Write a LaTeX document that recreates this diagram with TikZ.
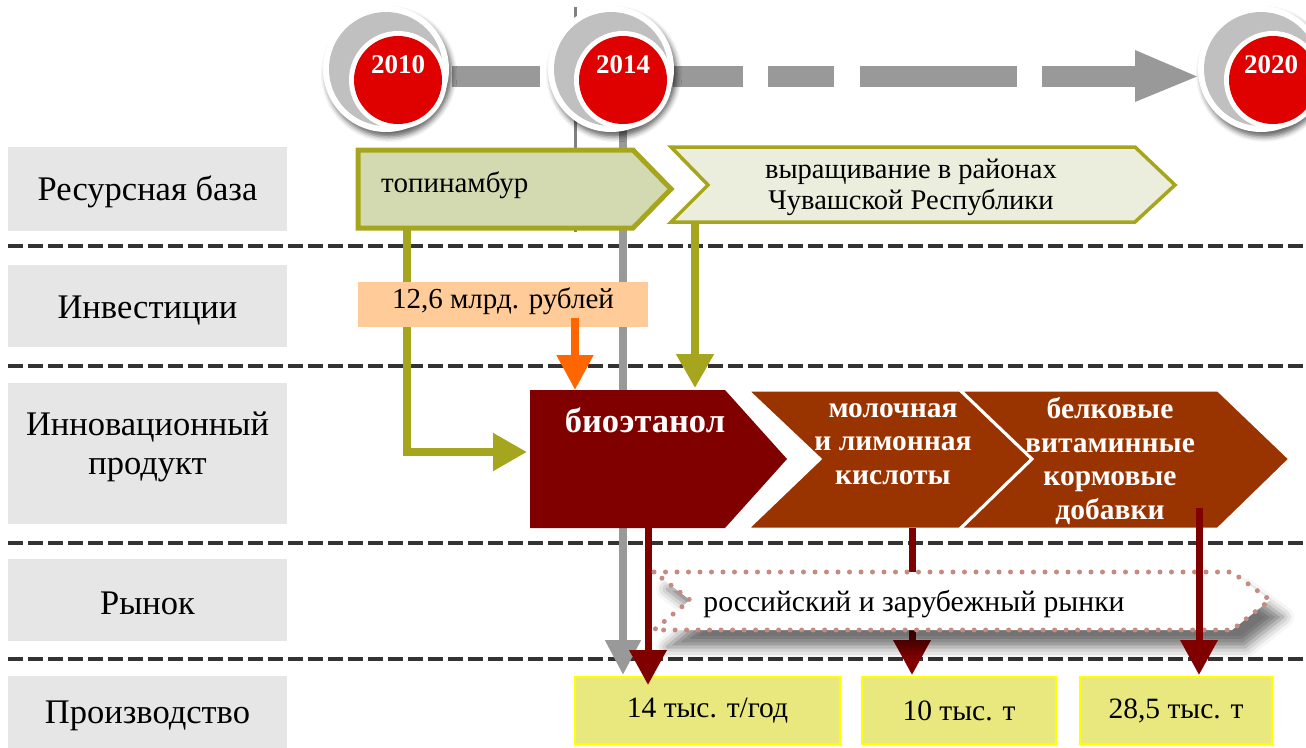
\documentclass[tikz,border=0pt]{standalone}
\usepackage{fontspec}
\setmainfont{Liberation Serif}
\usetikzlibrary{arrows.meta,shadows.blur}

\definecolor{lblgray}{HTML}{E6E6E6}
\definecolor{sepgray}{HTML}{333333}
\definecolor{bargray}{HTML}{999999}
\definecolor{guidegray}{HTML}{808080}
\definecolor{ringgray}{HTML}{C0C0C0}
\definecolor{yearred}{HTML}{DF0000}
\definecolor{oliveline}{HTML}{A6A61E}
\definecolor{topifill}{HTML}{D3DAB1}
\definecolor{growfill}{HTML}{EBEEDD}
\definecolor{peach}{HTML}{FFCC99}
\definecolor{orangearr}{HTML}{FF6600}
\definecolor{darkmaroon}{HTML}{800000}
\definecolor{rust}{HTML}{993300}
\definecolor{dotrose}{HTML}{C38B82}
\definecolor{prodfill}{HTML}{E8E87F}
\definecolor{prodedge}{HTML}{FFFF00}

\newcommand\txtsize[2]{\fontsize{#1}{#2}\selectfont}

\begin{document}
\begin{tikzpicture}[x=1pt,y=-1pt,
  rowtext/.style={inner sep=0pt, align=center, font=\txtsize{34.5}{39}},
  rowsep/.style={draw=sepgray, line width=4pt, dash pattern=on 15pt off 5pt},
  bar/.style={fill=bargray},
  yearshadow/.style={blur shadow={shadow xshift=3pt, shadow yshift=-5pt, shadow blur radius=5pt, shadow opacity=60}},
  yeartext/.style={inner sep=0pt, text=white, font=\bfseries\txtsize{27}{27}},
  plaintext/.style={inner sep=0pt, align=center, font=\txtsize{29}{31}},
  whitebold/.style={inner sep=0pt, align=center, text=white, font=\bfseries\txtsize{29.5}{33.5}},
  olivearrow/.style={draw=oliveline, line width=8pt, line join=miter, -{Triangle[width=36pt,length=34pt]}},
  orangearrow/.style={draw=orangearr, line width=8pt, -{Triangle[width=35pt,length=35pt]}},
  grayarrow/.style={draw=bargray, line width=8pt, -{Triangle[width=34pt,length=35pt]}},
  redarrow/.style={draw=darkmaroon, line width=7pt, -{Triangle[width=36pt,length=35pt]}},
  prodbox/.style={fill=prodfill, draw=prodedge, line width=2pt, inner sep=0pt, font=\txtsize{29.5}{31}},
]
\useasboundingbox (0,0) rectangle (1306,747);
\clip (0,0) rectangle (1306,747);

% ---- row captions on the left ----
\fill[lblgray] (8,147) rectangle (287,231);
\fill[lblgray] (8,265) rectangle (287,347);
\fill[lblgray] (8,383) rectangle (287,524);
\fill[lblgray] (8,559) rectangle (287,641);
\fill[lblgray] (8,676) rectangle (287,760);
\node[rowtext, anchor=base] (lres) at (147.5,200) {Ресурсная база};
\node[rowtext, anchor=base] (linv) at (147.5,318) {Инвестиции};
\node[rowtext] (linn) at (147.5,447) {Инновационный\\продукт};
\node[rowtext, anchor=base] (lmkt) at (147.5,614) {Рынок};
\node[rowtext, anchor=base] (lprd) at (147.5,723) {Производство};

% ---- dashed row separators ----
\foreach \yy in {246,366,543,659}
  \draw[rowsep] (8,\yy) -- (1306,\yy);

% ---- guide lines from the 2014 mark ----
\draw[guidegray, line width=3pt] (575,7) -- (575,232);
\coordinate (g0) at (623,130);
\coordinate (g1) at (623,675);
\draw[grayarrow] (g0) -- (g1);

% ---- timeline ----
\fill[bar] (452,66) rectangle (540,87);
\fill[bar] (673,66) rectangle (743,87);
\fill[bar] (768,66) rectangle (834,87);
\fill[bar] (860,66) rectangle (1017,87);
\fill[bar] (1042,66) rectangle (1136,87);
\fill[bar] (1135,50) -- (1197,76.5) -- (1135,102) -- cycle;

\begin{scope}[shift={(386,69)}]
  \fill[white, yearshadow] (0,0) circle (63);
  \fill[ringgray] (0,0) circle (57);
  \fill[white] (12,11) circle (49);
  \fill[yearred] (12,11) circle (44);
  \node[yeartext] (y2010) at (12,-4) {2010};
\end{scope}
\begin{scope}[shift={(611,69)}]
  \fill[white, yearshadow] (0,0) circle (63);
  \fill[ringgray] (0,0) circle (57);
  \fill[white] (12,11) circle (49);
  \fill[yearred] (12,11) circle (44);
  \node[yeartext] (y2014) at (12,-4) {2014};
\end{scope}
\begin{scope}[shift={(1261,69)}]
  \fill[white, yearshadow] (0,0) circle (63);
  \fill[ringgray] (0,0) circle (57);
  \fill[white] (12,11) circle (49);
  \fill[yearred] (12,11) circle (44);
  \node[yeartext] (y2020) at (10,-4) {2020};
\end{scope}

% ---- resource base ----
\coordinate (t0) at (407,228);
\coordinate (t1) at (407,452);
\coordinate (t2) at (527,452);
\draw[olivearrow] (t0) -- (t1) -- (t2);
\coordinate (v0) at (695,222);
\coordinate (v1) at (695,388);
\draw[olivearrow] (v0) -- (v1);

\filldraw[fill=topifill, draw=oliveline, line width=5pt, line join=miter]
  (358,150) -- (633,150) -- (671,189) -- (633,228) -- (358,228) -- cycle;
\node[plaintext, anchor=base west] (topi) at (381,192) {топинамбур};

\filldraw[fill=growfill, draw=oliveline, line width=3.5pt, line join=miter]
  (671,147) -- (1135,147) -- (1175,185) -- (1135,222) -- (671,222) -- (708,185) -- cycle;
\node[plaintext, font=\txtsize{28.5}{31}] (grow) at (911,187) {выращивание в районах\\Чувашской Республики};

% ---- investments ----
\fill[peach] (358,282) rectangle (648,327);
\node[plaintext, anchor=base] (inv) at (503,308) {12,6 млрд. рублей};
\coordinate (o0) at (575,318);
\coordinate (o1) at (575,390);
\draw[orangearrow] (o0) -- (o1);

% ---- innovative products ----
\fill[darkmaroon] (530,390) -- (725,390) -- (787,459) -- (725,528) -- (530,528) -- cycle;
\filldraw[fill=rust, draw=white, line width=3pt, line join=miter]
  (747,390) -- (960,390) -- (1032,459) -- (960,529) -- (747,529) -- (820,459) -- cycle;
\filldraw[fill=rust, draw=white, line width=3pt, line join=miter]
  (960,390) -- (1218,390) -- (1290,459) -- (1218,529) -- (960,529) -- (1032,459) -- cycle;
\node[whitebold, anchor=base, font=\bfseries\txtsize{34.5}{34.5}] (bio) at (645,432) {биоэтанол};
\node[whitebold] (acid) at (893,444) {молочная\\и лимонная\\кислоты};
\node[whitebold] (feed) at (1110,461) {белковые\\витаминные\\кормовые\\добавки};

% ---- production ----
\node[prodbox, minimum width=265pt, minimum height=67pt] (p1) at (707.5,710.5) {14 тыс. т/год};
\node[prodbox, minimum width=194pt, minimum height=67pt] (p2) at (959,710.5) {10 тыс. т};
\node[prodbox, minimum width=192pt, minimum height=67pt] (p3) at (1176,710.5) {28,5 тыс. т};

% ---- output arrows ----
\coordinate (r0) at (648,520);
\coordinate (r1) at (648,685);
\draw[redarrow] (r0) -- (r1);
\coordinate (m0) at (912,528);
\coordinate (m1) at (912,675);
\draw[redarrow] (m0) -- (m1);

% ---- market ----
\filldraw[fill=white, draw=dotrose, line width=5pt, line cap=round,
  dash pattern=on 0pt off 11.5pt,
  blur shadow={shadow xshift=13pt, shadow yshift=-17pt, shadow blur radius=11pt, shadow opacity=55}]
  (654,572) -- (1232,572) -- (1270,600) -- (1232,630) -- (654,630) -- (690,600) -- cycle;
\node[plaintext, anchor=base, font=\txtsize{29.7}{31}] (mkt) at (914,611) {российский и зарубежный рынки};

\coordinate (f0) at (1199,508);
\coordinate (f1) at (1199,675);
\draw[redarrow] (f0) -- (f1);
\end{tikzpicture}
\end{document}
